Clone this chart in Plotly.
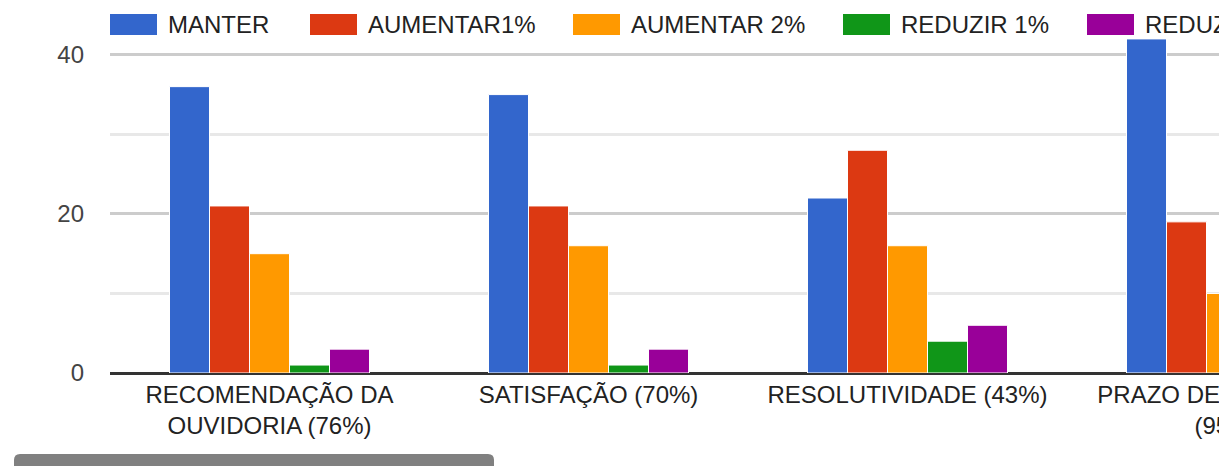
import plotly.graph_objects as go

# ---------------- data ----------------
categories = [
    "RECOMENDAÇÃO DA<br>OUVIDORIA (76%)",
    "SATISFAÇÃO (70%)",
    "RESOLUTIVIDADE (43%)",
    "PRAZO DE RESPOSTA<br>(95%)",
]
series_names = ["MANTER", "AUMENTAR1%", "AUMENTAR 2%", "REDUZIR 1%", "REDUZIR 2%"]
manter = [36, 35, 22, 42]
aumentar1 = [21, 21, 28, 19]
aumentar2 = [15, 16, 16, 10]
reduzir1 = [1, 1, 4, 1]
reduzir2 = [3, 3, 6, 2]
y_tick_values = [0, 20, 40]
y_minor_values = [10, 30]

series_values = [manter, aumentar1, aumentar2, reduzir1, reduzir2]
colors = ["#3366cc", "#dc3912", "#ff9900", "#109618", "#990099"]

# ---------------- layout geometry ----------------
OFF = 0  # page margin removed by the post script below
W, H = 1232, 466
plot_left_s, plot_top_s, plot_bottom_s = 110, 23, 373   # screen pixels
L = plot_left_s - OFF
T = plot_top_s - OFF
B = H - (plot_bottom_s - OFF)
R = 0
plot_w = W - L - R
plot_h = H - T - B
px_per_cat = 319.0
x_range = [-0.5, -0.5 + plot_w / px_per_cat]
y_range = [0, 44]
FONT = "Arial, 'Liberation Sans', sans-serif"
FS = 24


def px2x(sx):
    """screen x pixel -> paper x"""
    return (sx - OFF - L) / plot_w


def py2y(sy):
    """screen y pixel -> paper y"""
    return (plot_bottom_s - sy) / plot_h


fig = go.Figure()
for name, vals, col in zip(series_names, series_values, colors):
    fig.add_trace(go.Bar(
        x=categories, y=vals, name=name,
        marker=dict(color=col, line=dict(color="white", width=1)),
        showlegend=False,
    ))

shapes = []
annotations = []

# custom legend (large swatches like the original)
legend_px = [110, 310, 573, 843, 1087]
for name, col, lx in zip(series_names, colors, legend_px):
    shapes.append(dict(type="rect", xref="paper", yref="paper",
                       x0=px2x(lx), x1=px2x(lx + 47), y0=py2y(35), y1=py2y(14),
                       fillcolor=col, line=dict(width=0), layer="above"))
    annotations.append(dict(xref="paper", yref="paper", x=px2x(lx + 56), y=py2y(25),
                            xanchor="left", yanchor="middle", showarrow=False,
                            text=name, font=dict(family=FONT, size=FS, color="#222222")))

# scrollbar thumb
x0, x1, y0, y1, r = 14, 494, 454, 470, 6
pts = [
    f"M{px2x(x0 + r)},{py2y(y0)}",
    f"L{px2x(x1 - r)},{py2y(y0)}",
    f"Q{px2x(x1)},{py2y(y0)} {px2x(x1)},{py2y(y0 + r)}",
    f"L{px2x(x1)},{py2y(y1)}",
    f"L{px2x(x0)},{py2y(y1)}",
    f"L{px2x(x0)},{py2y(y0 + r)}",
    f"Q{px2x(x0)},{py2y(y0)} {px2x(x0 + r)},{py2y(y0)}",
    "Z",
]
shapes.append(dict(type="path", xref="paper", yref="paper", path=" ".join(pts),
                   fillcolor="#808080", line=dict(width=0), layer="above"))

fig.update_layout(
    width=W, height=H,
    margin=dict(l=L, r=R, t=T, b=B, pad=0, autoexpand=False),
    paper_bgcolor="white", plot_bgcolor="white",
    barmode="group", bargap=1 - 200 / px_per_cat, bargroupgap=0,
    font=dict(family=FONT, size=FS, color="#222222"),
    shapes=shapes, annotations=annotations,
    xaxis=dict(type="category", range=x_range, showgrid=False, zeroline=False,
               automargin=False, showline=False, ticks="", ticklabelstandoff=5,
               tickfont=dict(family=FONT, size=FS, color="#222222")),
    yaxis=dict(range=y_range, tickvals=y_tick_values, showgrid=True, automargin=False,
               gridcolor="#cccccc", gridwidth=3,
               minor=dict(tickvals=y_minor_values, showgrid=True, gridcolor="#e8e8e8", gridwidth=3),
               zeroline=True, zerolinecolor="#333333", zerolinewidth=3,
               showline=False, ticks="", ticklabelstandoff=25,
               tickfont=dict(family=FONT, size=FS, color="#444444")),
)

fig.write_html(
    "out.html",
    config={"displayModeBar": False},
    post_script="document.body.style.margin='0';document.body.style.overflow='hidden';"
                "document.documentElement.style.overflow='hidden';",
)
